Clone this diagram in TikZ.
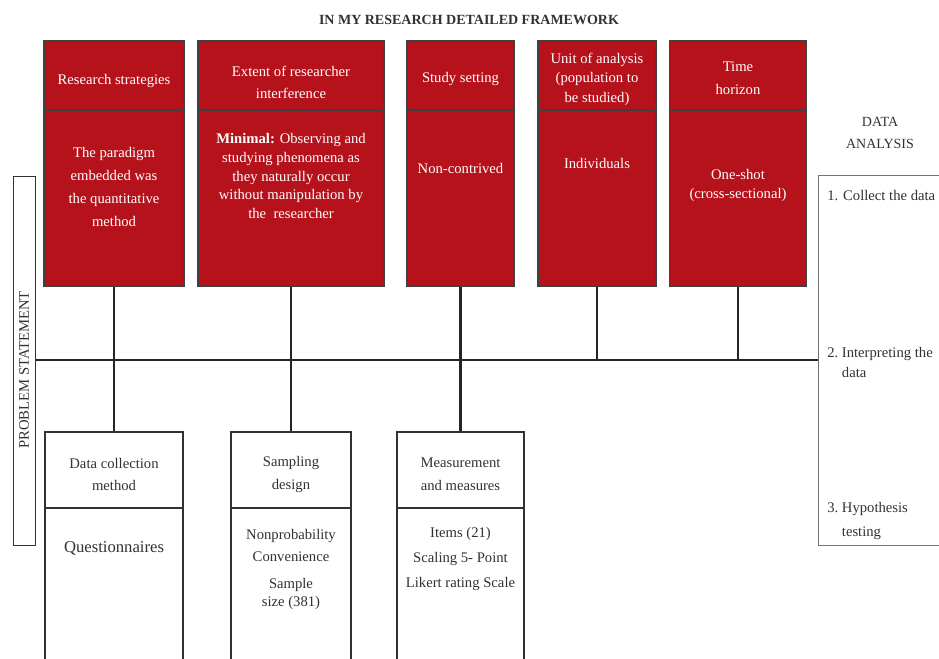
\documentclass[tikz,border=0pt]{standalone}
\usepackage{fontspec}
\setmainfont{Liberation Serif}
\definecolor{myred}{RGB}{182,18,28}
\definecolor{ink}{RGB}{50,50,50}
\begin{document}
\begin{tikzpicture}[x=0.75pt,y=-0.75pt,
  sz/.style 2 args={minimum width=#1*0.75pt,minimum height=#2*0.75pt},
  redbox/.style={draw=black!75, line width=1pt, fill=myred, inner sep=0pt},
  whitebox/.style={draw=ink, line width=1pt, fill=white, inner sep=0pt},
  thinbox/.style={draw=black!55, line width=0.9pt, fill=white, inner sep=0pt},
  wtxt/.style={text=white, align=center, inner sep=0pt, font=\fontsize{11}{17}\selectfont},
  btxt/.style={text=ink, align=center, inner sep=0pt, font=\fontsize{11}{17}\selectfont},
  link/.style={draw=black!85, line width=1.9pt},
]
\useasboundingbox (0,0) rectangle (939,658);

% title
\node[btxt, font=\bfseries\fontsize{10.5}{12}\selectfont] (title) at (469,20) {IN MY RESEARCH DETAILED FRAMEWORK};

% red boxes
\node[redbox, sz={140}{69}]  (r1h) at (114,75.5) {};
\node[redbox, sz={140}{176}] (r1b) at (114,198) {};
\node[redbox, sz={186}{69}]  (r2h) at (291,75.5) {};
\node[redbox, sz={186}{176}] (r2b) at (291,198) {};
\node[redbox, sz={107}{69}]  (r3h) at (460.5,75.5) {};
\node[redbox, sz={107}{176}] (r3b) at (460.5,198) {};
\node[redbox, sz={118}{69}]  (r4h) at (597,75.5) {};
\node[redbox, sz={118}{176}] (r4b) at (597,198) {};
\node[redbox, sz={137}{69}]  (r5h) at (738,75.5) {};
\node[redbox, sz={137}{176}] (r5b) at (738,198) {};

\node[wtxt] (r1ht) at (114,81) {Research strategies};
\node[wtxt, font=\fontsize{11}{17.25}\selectfont] (r1bt) at (114,187) {The paradigm\\embedded was\\the quantitative\\method};
\node[wtxt] (r2ht) at (291,82.5) {Extent of researcher\\interference};
\node[wtxt, font=\fontsize{11}{13.9}\selectfont] (r2bt) at (291,176) {\textbf{Minimal:} Observing and\\studying phenomena as\\they naturally occur\\without manipulation by\\the\ \ researcher};
\node[wtxt] (r3ht) at (460.5,79) {Study setting};
\node[wtxt] (r3bt) at (460.5,168) {Non-contrived};
\node[wtxt, font=\fontsize{11}{14.6}\selectfont] (r4ht) at (597,79) {Unit of analysis\\(population to\\be studied)};
\node[wtxt] (r4bt) at (597,163) {Individuals};
\node[wtxt] (r5ht) at (738,78.5) {Time\\horizon};
\node[wtxt, font=\fontsize{11}{14.3}\selectfont] (r5bt) at (738,185.5) {One-shot\\(cross-sectional)};

% problem statement
\node[whitebox, sz={22}{369}, anchor=north west] (ps) at (13,176) {};
\node[btxt, rotate=90] (pst) at (24,370) {PROBLEM STATEMENT};

% data analysis
\node[btxt, font=\fontsize{10.5}{16.5}\selectfont] (dal) at (880,133) {DATA\\ANALYSIS};
\node[thinbox, sz={140}{370}, anchor=north west] (da) at (818,175) {};
\node[btxt, anchor=west] (da1) at (827,196) {1. Collect the data};
\node[btxt, anchor=west, font=\fontsize{11}{15.5}\selectfont] (da2) at (827,363.5) {\begin{tabular}{@{}l@{\ }l@{}}2.&Interpreting the\\&data\end{tabular}};
\node[btxt, anchor=west, font=\fontsize{11}{18}\selectfont] (da3) at (827,520) {\begin{tabular}{@{}l@{\ }l@{}}3.&Hypothesis\\&testing\end{tabular}};

% bottom boxes
\node[whitebox, sz={138}{76}]  (b1h) at (114,470) {};
\node[whitebox, sz={138}{172}] (b1b) at (114,594) {};
\node[whitebox, sz={120}{76}]  (b2h) at (291,470) {};
\node[whitebox, sz={120}{172}] (b2b) at (291,594) {};
\node[whitebox, sz={127}{76}]  (b3h) at (460.5,470) {};
\node[whitebox, sz={127}{172}] (b3b) at (460.5,594) {};

\node[btxt] (b1ht) at (114,474.5) {Data collection\\method};
\node[btxt, font=\fontsize{12.5}{15}\selectfont] (b1bt) at (114,548) {Questionnaires};
\node[btxt] (b2ht) at (291,474.5) {Sampling\\design};
\node[btxt] (b2bt1) at (291,545.5) {Nonprobability\\Convenience};
\node[btxt, font=\fontsize{11}{13.5}\selectfont] (b2bt2) at (291,594) {Sample\\size (381)};
\node[btxt] (b3ht) at (460.5,474.5) {Measurement\\and measures};
\node[btxt, font=\fontsize{11}{19}\selectfont] (b3bt) at (460.5,559) {Items (21)\\Scaling 5- Point\\Likert rating Scale};

% connectors
\coordinate (hl) at (0,360);
\draw[link] (ps.east |- hl) -- (da.west |- hl);
\draw[link] (r1b.south) -- (b1h.north);
\draw[link] (r2b.south) -- (b2h.north);
\draw[link] (r3b.south) -- (b3h.north);
\draw[link] (r4b.south) -- (r4b.south |- hl);
\draw[link] (r5b.south) -- (r5b.south |- hl);
\end{tikzpicture}
\end{document}
